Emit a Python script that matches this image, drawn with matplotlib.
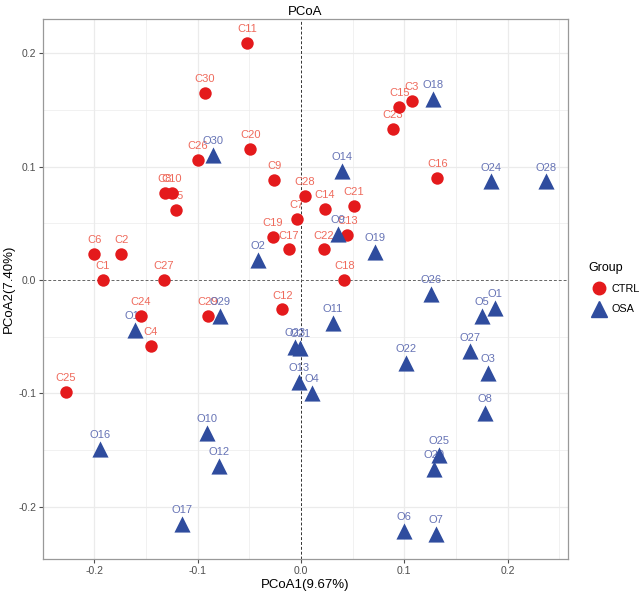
import matplotlib
matplotlib.use("Agg")
import matplotlib.pyplot as plt
from matplotlib.lines import Line2D
from matplotlib.ticker import MultipleLocator

plt.rcParams['font.family'] = ['Liberation Sans', 'DejaVu Sans']

# PCoA coordinates
ctrl_names = ["C%d" % i for i in range(1, 31)]
ctrl_x = [-0.192, -0.174, 0.107, -0.1455, -0.121, -0.200, -0.004, -0.132, -0.026, -0.125,
          -0.052, -0.018, 0.045, 0.023, 0.095, 0.132, -0.012, 0.042, -0.027, -0.049,
          0.051, 0.022, 0.089, -0.155, -0.2275, -0.100, -0.133, 0.004, -0.090, -0.093]
ctrl_y = [0.000, 0.023, 0.158, -0.058, 0.062, 0.023, 0.054, 0.077, 0.088, 0.077,
          0.209, -0.026, 0.040, 0.063, 0.153, 0.090, 0.027, 0.000, 0.038, 0.116,
          0.065, 0.027, 0.133, -0.032, -0.099, 0.106, 0.000, 0.074, -0.032, 0.165]

osa_names = ["O%d" % i for i in range(1, 31)]
osa_x = [0.188, -0.042, 0.181, 0.011, 0.175, 0.100, 0.131, 0.178, 0.0355, -0.091,
         0.031, -0.079, -0.002, 0.040, -0.161, -0.195, -0.1155, 0.1275, 0.072, 0.129,
         -0.001, 0.1016, -0.006, 0.184, 0.134, 0.1255, 0.164, 0.237, -0.078, -0.085]
osa_y = [-0.025, 0.018, -0.082, -0.100, -0.032, -0.2215, -0.224, -0.117, 0.041, -0.135,
         -0.038, -0.164, -0.090, 0.096, -0.044, -0.149, -0.215, 0.160, 0.025, -0.167,
         -0.060, -0.073, -0.059, 0.087, -0.1545, -0.012, -0.063, 0.087, -0.032, 0.110]

red, blue = "#E41A1C", "#2F4C9E"
red_txt, blue_txt = "#EF6A5C", "#6673B5"

fig = plt.figure(figsize=(6.4, 5.92), dpi=100)
ax = fig.add_axes([0.0672, 0.0557, 0.8203, 0.9123])

for v in (0.05, 0.15, 0.25, -0.05, -0.15, -0.25):
    ax.axvline(v, color="#EBEBEB", lw=0.5, zorder=0)
    ax.axhline(v, color="#EBEBEB", lw=0.5, zorder=0)
for v in (-0.2, -0.1, 0.1, 0.2):
    ax.axvline(v, color="#EBEBEB", lw=0.9, zorder=0)
    ax.axhline(v, color="#EBEBEB", lw=0.9, zorder=0)
ax.axvline(0, color="#333333", lw=0.7, ls=(0, (3, 2)), zorder=1)
ax.axhline(0, color="#666666", lw=0.7, ls=(0, (3, 2)), zorder=1)

for n, x, y in zip(ctrl_names, ctrl_x, ctrl_y):
    ax.annotate(n, (x, y), xytext=(0, 10), textcoords="offset points",
                ha="center", va="center", fontsize=8, color=red_txt, zorder=2)
for n, x, y in zip(osa_names, osa_x, osa_y):
    ax.annotate(n, (x, y), xytext=(0, 10), textcoords="offset points",
                ha="center", va="center", fontsize=8, color=blue_txt, zorder=2)

ax.scatter(ctrl_x, ctrl_y, s=80, c=red, marker="o", linewidths=0, zorder=3)
ax.scatter(osa_x, osa_y, s=135, c=blue, marker="^", linewidths=0, zorder=3)

ax.set_xlim(-0.2498, 0.2585)
ax.set_ylim(-0.2462, 0.2304)
ax.xaxis.set_major_locator(MultipleLocator(0.1))
ax.yaxis.set_major_locator(MultipleLocator(0.1))
ax.xaxis.set_major_formatter(matplotlib.ticker.FuncFormatter(lambda v, p: "%.1f" % v))
ax.yaxis.set_major_formatter(matplotlib.ticker.FuncFormatter(lambda v, p: "%.1f" % v))
ax.tick_params(labelsize=7.5, colors="#4D4D4D", length=3, width=0.8, pad=2)
for s in ax.spines.values():
    s.set_color("#999999")
    s.set_linewidth(0.9)

ax.set_xlabel("PCoA1(9.67%)", fontsize=9.5, labelpad=2)
ax.set_ylabel("PCoA2(7.40%)", fontsize=9.5, labelpad=2)
ax.set_title("PCoA", fontsize=9.5, pad=3)

handles = [Line2D([], [], marker="o", color=red, ls="none", markersize=9),
           Line2D([], [], marker="^", color=blue, ls="none", markersize=11)]
fig.legend(handles, ["CTRL", "OSA"], title="Group", loc="upper left",
           bbox_to_anchor=(0.912, 0.565), frameon=False, fontsize=7.8,
           title_fontsize=9, handletextpad=0.2, labelspacing=0.95,
           alignment="left", borderaxespad=0)

fig.savefig("out.png", dpi=100)
